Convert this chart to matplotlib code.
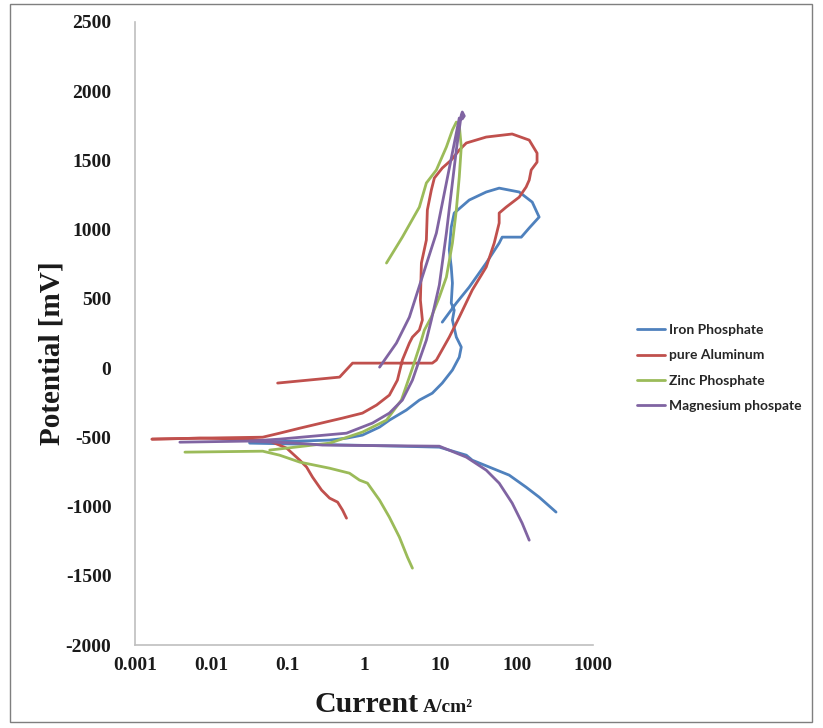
import matplotlib
matplotlib.use("Agg")
import matplotlib.pyplot as plt
from matplotlib.ticker import FixedLocator, FixedFormatter, NullLocator
from matplotlib.patches import Rectangle

# ---------------- data (current A/cm2, potential mV) ----------------
series_names = ["Iron Phosphate", "pure Aluminum", "Zinc Phosphate", "Magnesium phospate"]
series_colors = ["#4F81BD", "#C0504D", "#9BBB59", "#8064A2"]

iron_cath_i = [0.0318, 0.144, 0.645, 2.91, 9.70, 21.9, 26.2, 79.8, 133, 197, 328]
iron_cath_e = [-542, -549, -556, -564, -571, -629, -665, -773, -860, -932, -1040]
iron_anod_i = [0.0318, 0.144, 0.354, 0.590, 0.955, 1.60, 2.15, 3.59, 5.31, 7.85, 10.6, 14.4,
               17.7, 18.8, 16.2, 14.4, 15.2, 13.9, 14.4, 13.9, 13.1, 13.9, 15.2, 23.9, 39.9,
               59.0, 108, 160, 197, 146, 115, 64.6, 59.0, 39.9, 23.9, 16.2, 10.6]
iron_anod_e = [-535, -527, -520, -506, -484, -426, -376, -303, -231, -181, -108, -14,
               79, 152, 224, 347, 419, 470, 614, 730, 853, 1019, 1120, 1214, 1272,
               1300, 1272, 1199, 1091, 1012, 946, 946, 903, 759, 585, 470, 332]

al_cath_i = [0.00167, 0.00708, 0.0318, 0.0582, 0.097, 0.144, 0.177, 0.212, 0.278, 0.354, 0.451, 0.524, 0.59]
al_cath_e = [-513, -506, -513, -527, -578, -665, -715, -788, -881, -939, -968, -1026, -1084]
al_anod_i = [0.00167, 0.00708, 0.0471, 0.0785, 0.144, 0.354, 0.524, 0.955, 1.46, 2.15, 2.74,
             3.18, 3.93, 4.31, 5.31, 5.82, 5.48, 5.65, 6.56, 6.76, 7.62, 8.35, 10.6, 13.9,
             17.7, 21.9, 39.9, 87.3, 146, 185, 185, 155, 146, 133, 108, 72.9, 59.0, 59.0,
             50.8, 39.9, 26.2, 17.7, 13.1, 8.87, 7.85, 0.708, 0.479, 0.0739]
al_anod_e = [-513, -506, -499, -470, -434, -383, -361, -325, -267, -195, -87,
             58, 181, 224, 275, 347, 491, 759, 925, 1142, 1286, 1373, 1445, 1503,
             1575, 1626, 1669, 1691, 1647, 1553, 1488, 1431, 1358, 1308, 1235, 1163, 1120, 1048,
             903, 730, 564, 368, 224, 58, 36, 36, -65, -108]

zinc_cath_i = [0.00451, 0.0471, 0.0785, 0.144, 0.354, 0.645, 0.873, 1.11, 1.60, 2.15, 2.91, 3.71, 4.31]
zinc_cath_e = [-607, -600, -629, -679, -723, -759, -809, -831, -954, -1077, -1221, -1366, -1445]
zinc_anod_i = [0.0582, 0.097, 0.354, 0.955, 1.97, 3.09, 4.31, 5.31, 6.18, 7.62, 9.70, 12.0,
               14.4, 16.2, 17.7, 18.8, 17.7, 16.2, 14.4, 12.0, 8.87, 6.56, 5.31, 3.18, 1.97]
zinc_anod_e = [-592, -578, -542, -462, -376, -231, 0, 152, 275, 368, 513, 657,
               903, 1142, 1380, 1597, 1756, 1777, 1720, 1597, 1431, 1337, 1163, 946, 759]

mg_cath_i = [0.0318, 0.131, 0.287, 1.60, 9.70, 21.9, 39.9, 59.0, 87.3, 118, 146]
mg_cath_e = [-527, -542, -556, -560, -564, -643, -737, -831, -975, -1120, -1243]
mg_anod_i = [0.00387, 0.0318, 0.0785, 0.590, 1.29, 2.15, 3.18, 4.31, 5.31, 6.56, 7.62, 9.70,
             12.0, 16.2, 18.8, 19.4, 20.6, 19.4, 17.7, 16.2, 8.87, 3.93, 2.66, 1.60]
mg_anod_e = [-535, -527, -513, -470, -397, -325, -231, -87, 58, 202, 347, 600,
             975, 1575, 1828, 1850, 1821, 1800, 1806, 1698, 975, 368, 181, 7]

x_ticks = [0.001, 0.01, 0.1, 1, 10, 100, 1000]
x_tick_labels = ["0.001", "0.01", "0.1", "1", "10", "100", "1000"]
y_ticks = [-2000, -1500, -1000, -500, 0, 500, 1000, 1500, 2000, 2500]
y_tick_labels = [str(v) for v in y_ticks]

# ---------------- figure ----------------
W, H = 823, 728
fig = plt.figure(figsize=(W / 100, H / 100), dpi=100)
fig.patch.set_facecolor("white")

# outer chart border
fig.add_artist(Rectangle((10 / W, 1 - 722 / H), (812 - 10) / W, (722 - 4) / H,
                         transform=fig.transFigure, fill=False, edgecolor="#7f7f7f",
                         linewidth=1.0))

ax = fig.add_axes([135 / W, 1 - 645 / H, (593 - 135) / W, (645 - 22) / H])
ax.set_xscale("log")
ax.set_xlim(0.001, 1000)
ax.set_ylim(-2000, 2500)

lw = 2.0
groups = [
    [(iron_cath_i, iron_cath_e), (iron_anod_i, iron_anod_e)],
    [(al_cath_i, al_cath_e), (al_anod_i, al_anod_e)],
    [(zinc_cath_i, zinc_cath_e), (zinc_anod_i, zinc_anod_e)],
    [(mg_cath_i, mg_cath_e), (mg_anod_i, mg_anod_e)],
]
handles = []
for name, color, branches in zip(series_names, series_colors, groups):
    h = None
    for bx, by in branches:
        line, = ax.plot(bx, by, color=color, linewidth=lw, solid_joinstyle="round",
                        solid_capstyle="round")
        if h is None:
            h = line
    handles.append(h)

for s in ["top", "right"]:
    ax.spines[s].set_visible(False)
for s in ["left", "bottom"]:
    ax.spines[s].set_color("#bfbfbf")
    ax.spines[s].set_linewidth(1.2)

serif = ["Liberation Serif", "DejaVu Serif"]
ax.xaxis.set_major_locator(FixedLocator(x_ticks))
ax.xaxis.set_major_formatter(FixedFormatter(x_tick_labels))
ax.xaxis.set_minor_locator(NullLocator())
ax.set_yticks(y_ticks)
ax.set_yticklabels(y_tick_labels)
ax.tick_params(axis="both", length=0)
ax.tick_params(axis="y", pad=17)
ax.tick_params(axis="x", pad=9)
for lab in ax.get_xticklabels() + ax.get_yticklabels():
    lab.set_fontfamily(serif)
    lab.set_fontweight("bold")
    lab.set_fontsize(14)
    lab.set_color("#1a1a1a")

# axis titles
fig.text(52 / W, 1 - 353 / H, "Potential [mV]", rotation=90, ha="center", va="center",
         fontfamily=serif, fontweight="bold", fontsize=21, color="#1a1a1a")
fig.text(419 / W, 1 - 712 / H, "Current", ha="right", va="baseline",
         fontfamily=serif, fontweight="bold", fontsize=21.5, color="#1a1a1a")
fig.text(423 / W, 1 - 712 / H, "A/cm\u00b2", ha="left", va="baseline",
         fontfamily=serif, fontweight="bold", fontsize=14, color="#1a1a1a")

leg = fig.legend(handles, series_names, loc="center left",
                 bbox_to_anchor=(637 / W, 1 - 368 / H), frameon=False,
                 borderpad=0, borderaxespad=0, handlelength=2.0, handletextpad=0.3,
                 labelspacing=0.95, prop={"family": ["Lato", "DejaVu Sans"],
                                          "size": 10, "weight": "bold"})
for t in leg.get_texts():
    t.set_color("#262626")

fig.savefig("out.png", dpi=100, facecolor="white")
